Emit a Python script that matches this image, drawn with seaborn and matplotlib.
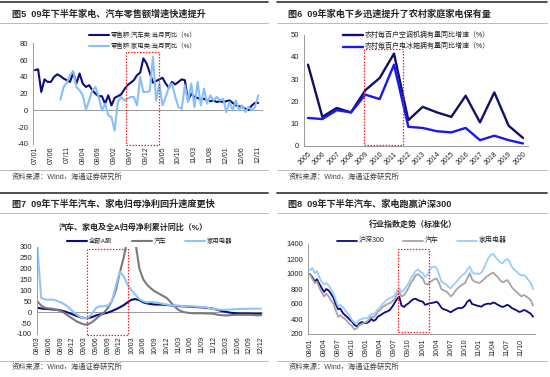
import numpy as np
import pandas as pd
import seaborn as sns
import matplotlib.pyplot as plt
import matplotlib.dates as mdates
from matplotlib.lines import Line2D
from matplotlib.patches import Rectangle

sns.set_style('white')
plt.rcParams['font.family'] = ['Liberation Sans', 'Noto Sans CJK SC']
plt.rcParams['axes.unicode_minus'] = False

# ---- fig5: monthly retail sales yoy (07/01 - 12/11)
retail_months = pd.period_range('2007-01', periods=71, freq='M').strftime('%y/%m')
auto_retail = [48, 49, 22, 37, 34, 34, 40, 43, 41, 38,
               36, 34, 45, 32, 44, 32, 28, 30, 24, 20,
               17, 17, 8, 18, 6, 15, 17, 19, 25, 30,
               33, 36, 42, 45, 62, 56, 45, 33, 35, 37,
               39, 32, 27, 34, 31, 34, 37, 36, 12, 20,
               16, 15, 13, 14, 12, 11, 12, 10, 11, 10,
               11, 12, 9, 6, 5, 4, 2, 0.5, 6, 9,
               9]
appl_retail = [np.nan] * 8 + [13, 28, 33, 42, 47, 28, 24, 18, 1, 12,
                              24, 28, 16, 0, 8, -6, -8, -24, 10, 16,
                              12, 14, 16, 16, 6, 40, 22, 22, 23, 64,
                              12, 32, 6, 16, 28, 32, 16, 4, 2, 30,
                              10, 32, 4, 34, 6, 26, 8, 18, 12, 16,
                              12, 14, -2, 10, 0, 12, 0, 6, -2, 4,
                              0, 4, 18]

# ---- fig6: rural ownership growth
years = list(range(2005, 2021))
ac_growth = [36.5, 13, 17, 15, 25, 30.5, 41.5, 11.5, 17.5, 15, 13, 22.5, 10.5, 24, 9, 3.5]
fridge_growth = [12.5, 12, 16, 15, 23, 21, 36.5, 8.5, 8, 6.5, 6, 8, 2.5, 4.5, 2.5, 1]

# ---- fig7: cumulative net profit yoy (08/03 - 12/12)
profit_months = pd.period_range('2008-03', periods=58, freq='M').strftime('%y/%m')
profit_all_a = [20, 17, 15, 14, 12, 11, 8, 3, -3, -10,
                -17, -23, -27, -27, -22, -15, -10, -6, -2, 5,
                13, 22, 32, 45, 57, 60, 55, 45, 40, 37,
                35, 35, 34, 33, 31, 29, 28, 27, 26, 25,
                24, 23, 22, 20, 18, 15, 10, 5, 2, -2,
                -4, -5, -6, -6, -6, -7, -7, -7]
profit_auto = [50, 30, 20, 17, 15, 10, 5, -5, -18, -30,
               -42, -50, -57, -55, -45, -30, -15, -2, 20, 50,
               100, 180, 250, 340, 430, 320, 200, 150, 125, 108,
               95, 85, 75, 65, 45, 25, 10, 2, -2, -4,
               -5, -5, -5, -6, -6, -8, -12, -14, -15, -14,
               -13, -12, -12, -12, -12, -13, -14, -14]
profit_appl = [300, 65, 58, 57, 58, 52, 45, 35, 22, 5,
               -10, -22, -28, -25, -5, 20, 27, 27, 30, 50,
               120, 185, 165, 125, 100, 80, 60, 50, 45, 47,
               45, 42, 38, 35, 32, 30, 30, 28, 27, 27,
               26, 25, 24, 22, 18, 14, 12, 11, 11, 12,
               13, 14, 15, 15, 16, 16, 16, 16]

# ---- fig8: normalized index (semi-monthly, 2008-2011)
idx_dates = pd.date_range('2008-01-01', periods=96, freq='SMS')
hs300 = [1000, 960, 900, 930, 870, 820, 760, 800, 780, 740, 680, 600,
         530, 540, 480, 450, 420, 390, 360, 320, 300, 340, 360, 350,
         345, 360, 400, 375, 390, 430, 450, 470, 490, 500, 520, 560,
         610, 660, 700, 580, 560, 590, 610, 640, 665, 670, 650, 640,
         630, 590, 600, 610, 615, 620, 630, 600, 550, 530, 520, 505,
         490, 510, 530, 545, 545, 550, 580, 630, 655, 600, 590, 580,
         570, 565, 590, 600, 605, 600, 620, 610, 590, 575, 560, 570,
         590, 575, 545, 530, 515, 495, 500, 520, 510, 490, 470, 430]
idx_auto = [1000, 940, 880, 900, 820, 760, 700, 740, 700, 650, 600, 520,
            430, 450, 420, 400, 360, 330, 300, 260, 280, 320, 330, 350,
            360, 390, 430, 420, 450, 500, 520, 560, 580, 600, 610, 630,
            660, 720, 760, 700, 720, 760, 820, 880, 930, 980, 1000, 970,
            940, 870, 860, 890, 910, 930, 940, 880, 800, 780, 770, 740,
            700, 730, 780, 810, 840, 860, 880, 940, 1010, 930, 900, 890,
            880, 900, 930, 960, 980, 1000, 1020, 990, 960, 920, 890, 900,
            920, 880, 820, 790, 760, 730, 700, 720, 700, 680, 650, 580]
idx_appl = [1050, 1080, 1010, 1040, 960, 900, 860, 880, 850, 800, 740, 660,
            570, 590, 560, 520, 470, 430, 380, 350, 350, 390, 400, 410,
            410, 430, 470, 460, 490, 530, 560, 600, 630, 660, 680, 690,
            710, 770, 810, 760, 790, 830, 880, 940, 990, 1040, 1060, 1030,
            1010, 960, 990, 1060, 1090, 1100, 1080, 1000, 900, 880, 860, 830,
            810, 850, 880, 920, 960, 990, 1010, 1060, 1100, 1030, 1000, 1010,
            1000, 1020, 1080, 1150, 1210, 1250, 1270, 1230, 1190, 1160, 1140, 1180,
            1200, 1170, 1090, 1060, 1030, 1000, 980, 990, 960, 920, 880, 800]

W, H = 550, 377
fig = plt.figure(figsize=(5.5, 3.77), dpi=100)
fig.patch.set_facecolor('white')
AX = '#9a9a9a'
SRC = '资料来源：Wind，海通证券研究所'


def box(l, t, r, b):
    return [l / W, 1 - b / H, (r - l) / W, (b - t) / H]


def frame(x0, x1, top, bottom, title):
    fig.add_artist(Line2D([x0 / W, x1 / W], [1 - top / H] * 2, color='#404040', lw=1.3))
    fig.text((x0 + 11.5) / W, 1 - (top + 12) / H, title, fontsize=6.6, weight='bold', va='center')
    fig.add_artist(Line2D([x0 / W, x1 / W], [1 - (top + 20.5) / H] * 2, color='#b0b0b0', lw=0.6))
    fig.add_artist(Line2D([x0 / W, x1 / W], [1 - bottom / H] * 2, color='#b0b0b0', lw=0.6))
    fig.text((x0 + 11.5) / W, 1 - (bottom + 7) / H, SRC, fontsize=5.2, color='#404040', va='center')


def style(ax, bottom=True):
    sns.despine(ax=ax)
    ax.spines['left'].set_color(AX)
    ax.spines['left'].set_linewidth(0.7)
    ax.spines['bottom'].set_color(AX)
    ax.spines['bottom'].set_linewidth(0.7)
    ax.spines['bottom'].set_visible(bottom)
    ax.tick_params(labelsize=5.5, length=2, width=0.5, color=AX, pad=1.5, labelcolor='#222222')
    ax.set_xlabel('')
    ax.set_ylabel('')


def key(ax, x0, y, fs=4.6):
    # legend entries placed at the reference pixel spots, one per series line of ax
    for line, (lx, ly) in zip(ax.get_lines(), zip(x0, y)):
        fig.add_artist(Line2D([lx / W, (lx + 20) / W], [1 - ly / H] * 2,
                              color=line.get_color(), lw=line.get_linewidth()))
        fig.text((lx + 22) / W, 1 - ly / H, line.get_label(), fontsize=fs, va='center', color='#222222')


def redbox(ax, x, y, w, h):
    ax.add_patch(Rectangle((x, y), w, h, fill=False, ec='#ff2020', ls=(0, (1.2, 1.2)), lw=0.9,
                           clip_on=False, zorder=5))


frame(0, 268, 2, 170, '图5  09年下半年家电、汽车零售额增速快速提升')
frame(277, 547, 2, 170, '图6  09年家电下乡迅速提升了农村家庭家电保有量')
frame(0, 268, 192.5, 360.5, '图7  09年下半年汽车、家电归母净利回升速度更快')
frame(277, 547, 192.5, 360.5, '图8  09年下半年汽车、家电跑赢沪深300')

# ---------------- fig5
ax1 = fig.add_axes(box(33, 43.3, 263, 144))
x1 = np.arange(len(auto_retail))
sns.lineplot(x=x1, y=auto_retail, ax=ax1, color='#0c0c80', lw=1.5, label='零售额:汽车类:当月同比（%）', legend=False)
sns.lineplot(x=x1, y=appl_retail, ax=ax1, color='#86c0fa', lw=1.5, label='零售额:家电类:当月同比（%）', legend=False)
ax1.axhline(0, color=AX, lw=0.7, zorder=0)
ax1.set_ylim(-40, 80)
ax1.set_yticks(range(-40, 81, 20))
ax1.set_xlim(-0.6, 71.5)
ax1.set_xticks(x1[::5])
ax1.set_xticklabels(retail_months[::5], rotation=90)
style(ax1, bottom=False)
ax1.tick_params(axis='x', length=0, labelsize=5)
redbox(ax1, 28.4, -41, 10.5, 111)
key(ax1, [89, 89], [35, 45.7], fs=4.6)

# ---------------- fig6
ax2 = fig.add_axes(box(304, 34.7, 528, 145.7))
sns.lineplot(x=years, y=ac_growth, ax=ax2, color='#10106a', lw=1.7, label='农村每百户空调机拥有量同比增速（%）', legend=False)
sns.lineplot(x=years, y=fridge_growth, ax=ax2, color='#1818f0', lw=1.7, label='农村每百户电冰箱拥有量同比增速（%）', legend=False)
ax2.set_ylim(0, 50)
ax2.set_xlim(2004.72, 2020.35)
ax2.set_xticks(years)
ax2.set_xticklabels(years, rotation=45, ha='right', rotation_mode='anchor')
style(ax2)
ax2.tick_params(axis='x', labelsize=5)
redbox(ax2, 2008.9, 0.3, 2.73, 43.2)
key(ax2, [343, 343], [35, 46.7], fs=5)

# ---------------- fig7
ax3 = fig.add_axes(box(36.7, 246.7, 263, 334))
x3 = np.arange(len(profit_all_a))
sns.lineplot(x=x3, y=profit_all_a, ax=ax3, color='#0c0c80', lw=1.5, label='全部A股', legend=False)
sns.lineplot(x=x3, y=profit_auto, ax=ax3, color='#7a7a7a', lw=1.5, label='汽车', legend=False)
sns.lineplot(x=x3, y=profit_appl, ax=ax3, color='#8ec5fa', lw=1.5, label='家用电器', legend=False)
ax3.axhline(0, color=AX, lw=0.7, zorder=0)
ax3.set_ylim(-100, 300)
ax3.set_yticks(range(-100, 301, 50))
ax3.set_xlim(-0.15, 57.5)
ax3.set_xticks(x3[::3])
ax3.set_xticklabels(profit_months[::3], rotation=90)
style(ax3, bottom=False)
ax3.tick_params(axis='x', length=0, labelsize=5)
redbox(ax3, 12.6, -105, 10.6, 394)
fig.text(133 / W, 1 - 227.7 / H, '汽车、家电及全A归母净利累计同比（%）', fontsize=5.8, weight='bold', ha='center', va='center')
key(ax3, [67, 132, 185], [240.7] * 3, fs=4.6)

# ---------------- fig8
ax4 = fig.add_axes(box(308.3, 244, 535, 334))
sns.lineplot(x=idx_dates, y=hs300, ax=ax4, color='#0a0a80', lw=1.3, label='沪深300', legend=False)
sns.lineplot(x=idx_dates, y=idx_auto, ax=ax4, color='#a5a5a5', lw=1.3, label='汽车', legend=False)
sns.lineplot(x=idx_dates, y=idx_appl, ax=ax4, color='#99ccff', lw=1.3, label='家用电器', legend=False)
ax4.set_ylim(200, 1400)
ax4.set_yticks(range(200, 1401, 200))
ax4.set_xlim(pd.Timestamp('2007-12-21'), pd.Timestamp('2011-12-28'))
ax4.set_xticks(pd.date_range('2008-01-01', '2011-10-01', freq='3MS'))
ax4.xaxis.set_major_formatter(mdates.DateFormatter('%y/%m'))
plt.setp(ax4.get_xticklabels(), rotation=90)
style(ax4)
ax4.tick_params(axis='x', labelsize=5)
b0 = mdates.date2num(pd.Timestamp('2009-07-22'))
b1 = mdates.date2num(pd.Timestamp('2010-02-10'))
redbox(ax4, b0, 231, b1 - b0, 1099)
fig.text(413 / W, 1 - 225 / H, '行业指数走势（标准化）', fontsize=5.8, weight='bold', ha='center', va='center')
key(ax4, [336.7, 403, 456.7], [240.7] * 3, fs=5)

fig.savefig('out.png', dpi=100, facecolor='white')
